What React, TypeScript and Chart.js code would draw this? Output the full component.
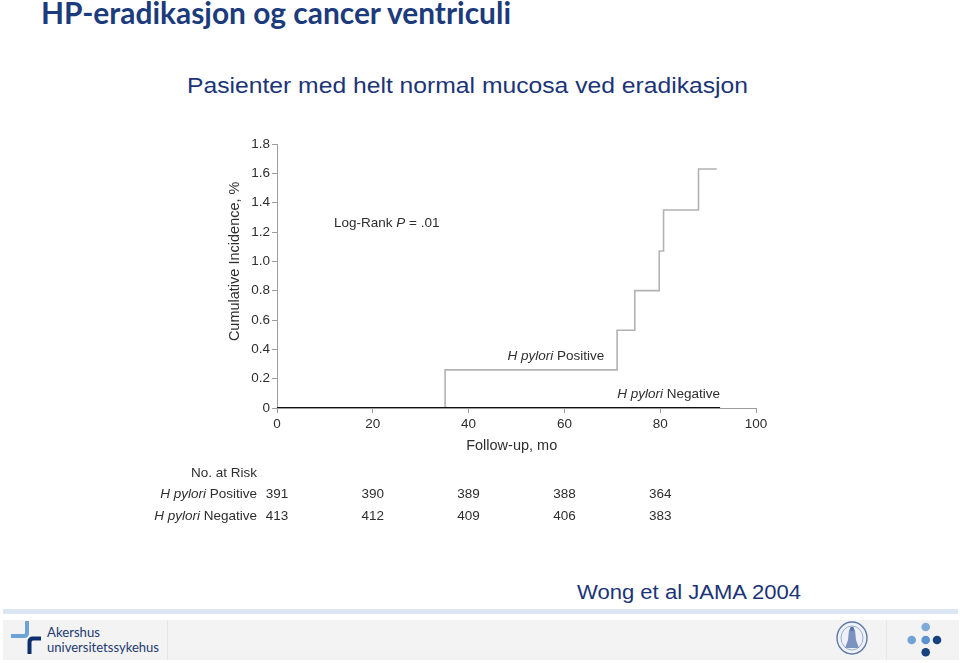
import React, { useEffect, useRef } from "react";
import { Chart, registerables } from "chart.js";

Chart.register(...registerables);

// ---- Data ----
const posMonths = [0, 35.1, 71.0, 74.7, 79.8, 80.7, 88.0, 91.8];
const posIncidence = [0, 0.26, 0.53, 0.8, 1.07, 1.35, 1.63, 1.63];
const negMonths = [0, 92.5];
const negIncidence = [0, 0];

const riskTimes = [0, 20, 40, 60, 80];
const riskPositive = [391, 390, 389, 388, 364];
const riskNegative = [413, 412, 409, 406, 383];

const xTickStep = 20;
const yTickStep = 0.2;

const FONT = "'Liberation Sans', Arial, Helvetica, sans-serif";
const TEXT = "#2e2e2e";

type Seg = { t: string; i?: boolean };

function drawSegs(ctx: CanvasRenderingContext2D, segs: Seg[], x: number, y: number, size: number, align: "left" | "right" | "center") {
  const fontOf = (s: Seg) => `${s.i ? "italic " : ""}${size}px ${FONT}`;
  let total = 0;
  for (const s of segs) {
    ctx.font = fontOf(s);
    total += ctx.measureText(s.t).width;
  }
  let cx = align === "left" ? x : align === "right" ? x - total : x - total / 2;
  ctx.textAlign = "left";
  ctx.textBaseline = "middle";
  for (const s of segs) {
    ctx.font = fontOf(s);
    ctx.fillText(s.t, cx, y);
    cx += ctx.measureText(s.t).width;
  }
}

const textPlugin = {
  id: "kmText",
  afterDraw(chart: any) {
    const { ctx, chartArea, scales } = chart;
    const xs = scales.x;
    const ys = scales.y;
    ctx.save();
    ctx.fillStyle = TEXT;

    // axis titles
    ctx.save();
    ctx.translate(chartArea.left - 42, ys.getPixelForValue(1.0));
    ctx.rotate(-Math.PI / 2);
    drawSegs(ctx, [{ t: "Cumulative Incidence, %" }], 0, 0, 14.5, "center");
    ctx.restore();
    drawSegs(ctx, [{ t: "Follow-up, mo" }], xs.getPixelForValue(49), chartArea.bottom + 38, 14.5, "center");

    // in-plot annotations
    drawSegs(ctx, [{ t: "Log-Rank " }, { t: "P", i: true }, { t: " = .01" }], xs.getPixelForValue(11.9), ys.getPixelForValue(1.26), 13.5, "left");
    drawSegs(ctx, [{ t: "H pylori", i: true }, { t: " Positive" }], xs.getPixelForValue(68.3), ys.getPixelForValue(0.355), 13.5, "right");
    drawSegs(ctx, [{ t: "H pylori", i: true }, { t: " Negative" }], xs.getPixelForValue(92.5), ys.getPixelForValue(0.095), 13.5, "right");

    // number at risk table
    const labelX = chartArea.left - 20;
    const r0 = chartArea.bottom + 65;
    const r1 = chartArea.bottom + 86;
    const r2 = chartArea.bottom + 108;
    drawSegs(ctx, [{ t: "No. at Risk" }], labelX, r0, 13.5, "right");
    drawSegs(ctx, [{ t: "H pylori", i: true }, { t: " Positive" }], labelX, r1, 13.5, "right");
    drawSegs(ctx, [{ t: "H pylori", i: true }, { t: " Negative" }], labelX, r2, 13.5, "right");
    riskTimes.forEach((t, i) => {
      const px = xs.getPixelForValue(t);
      drawSegs(ctx, [{ t: String(riskPositive[i]) }], px, r1, 13.5, "center");
      drawSegs(ctx, [{ t: String(riskNegative[i]) }], px, r2, 13.5, "center");
    });
    ctx.restore();
  },
};

function KMChart() {
  const ref = useRef<HTMLCanvasElement | null>(null);
  useEffect(() => {
    if (!ref.current) return;
    const axisGray = "#9c9c9c";
    const chart = new Chart(ref.current, {
      type: "line",
      data: {
        datasets: [
          {
            label: "H pylori Negative",
            data: negMonths.map((x, i) => ({ x, y: negIncidence[i] })),
            borderColor: "#111111",
            borderWidth: 2.2,
            stepped: "before",
            pointRadius: 0,
            fill: false,
          },
          {
            label: "H pylori Positive",
            data: posMonths.map((x, i) => ({ x, y: posIncidence[i] })),
            borderColor: "#b2b2b2",
            borderWidth: 1.6,
            stepped: "before",
            pointRadius: 0,
            fill: false,
          },
        ],
      },
      options: {
        responsive: false,
        animation: false,
        events: [],
        layout: { padding: { left: 226, top: 144, right: 204, bottom: 208 } },
        plugins: { legend: { display: false }, tooltip: { enabled: false } },
        scales: {
          x: {
            type: "linear",
            min: 0,
            max: 100,
            ticks: { stepSize: xTickStep, color: TEXT, font: { family: FONT, size: 13.5 }, padding: 3, maxRotation: 0 },
            grid: { drawOnChartArea: false, drawTicks: true, tickLength: 5, color: axisGray, lineWidth: 1 },
            border: { color: axisGray, width: 1 },
            afterFit: (s: any) => {
              s.height = 47;
            },
          },
          y: {
            type: "linear",
            min: 0,
            max: 1.8,
            ticks: {
              stepSize: yTickStep,
              color: TEXT,
              font: { family: FONT, size: 13.5 },
              padding: 2,
              callback: (v: any) => (Math.abs(Number(v)) < 1e-9 ? "0" : Number(v).toFixed(1)),
            },
            grid: { drawOnChartArea: false, drawTicks: true, tickLength: 5, color: axisGray, lineWidth: 1 },
            border: { color: axisGray, width: 1 },
            afterFit: (s: any) => {
              s.width = 51;
            },
          },
        },
      } as any,
      plugins: [textPlugin],
    });
    return () => chart.destroy();
  }, []);
  return <canvas ref={ref} width={960} height={663} style={{ position: "absolute", left: 0, top: 0, width: 960, height: 663 }} />;
}

function Decor() {
  const navy = "#1b3477";
  return (
    <svg width={960} height={663} style={{ position: "absolute", left: 0, top: 0 }}>
      <text x={41} y={23.5} fontFamily="Lato, 'Open Sans', sans-serif" fontWeight={700} fontSize={31} fill="#1c3b7c" textLength={470} lengthAdjust="spacingAndGlyphs">
        HP-eradikasjon og cancer ventriculi
      </text>
      <text x={187} y={93} fontFamily={FONT} fontSize={22.5} fill={navy} textLength={561} lengthAdjust="spacingAndGlyphs">
        Pasienter med helt normal mucosa ved eradikasjon
      </text>
      <text x={577} y={599} fontFamily={FONT} fontSize={19.5} fill={navy} textLength={224} lengthAdjust="spacingAndGlyphs">
        Wong et al JAMA 2004
      </text>
      {/* footer */}
      <rect x={3} y={609} width={955} height={5} fill="#dce6f2" />
      <rect x={3} y={620} width={956} height={40} fill="#f3f3f3" />
      <rect x={167} y={620} width={1} height={40} fill="#e6e6e6" />
      <rect x={886} y={620} width={1} height={40} fill="#e6e6e6" />
      {/* hospital logo */}
      <path d="M27 621 L27 633 Q27 636 24 636 L11 636" stroke="#6ea3d8" strokeWidth={4} fill="none" />
      <path d="M41 638.5 L33 638.5 Q29.5 638.5 29.5 642 L29.5 654" stroke="#0e2f6e" strokeWidth={4} fill="none" />
      <text x={47} y={637} fontFamily="Lato, 'Open Sans', sans-serif" fontSize={13} fill="#1d3a72" textLength={53} lengthAdjust="spacingAndGlyphs">
        Akershus
      </text>
      <text x={47} y={652} fontFamily="Lato, 'Open Sans', sans-serif" fontSize={13} fill="#1d3a72" textLength={112} lengthAdjust="spacingAndGlyphs">
        universitetssykehus
      </text>
      {/* seal */}
      <ellipse cx={852} cy={638} rx={15} ry={16} fill="#eef1f7" stroke="#6079aa" strokeWidth={1.4} />
      <ellipse cx={852} cy={638} rx={11} ry={12} fill="none" stroke="#9aaccd" strokeWidth={1} />
      <path d="M849 630 Q852 626 855 630 L856 640 L859 648 L845 648 L848 640 Z" fill="#7d93bf" />
      <circle cx={852} cy={629} r={2.2} fill="#5d76a8" />
      {/* dots */}
      <circle cx={925.7} cy={627} r={4.3} fill="#7eaad9" />
      <circle cx={911.7} cy={640} r={4.3} fill="#72a3d7" />
      <circle cx={925.7} cy={640} r={4.3} fill="#5a93cf" />
      <circle cx={937} cy={640} r={4.3} fill="#18427f" />
      <circle cx={925.7} cy={652.3} r={4.3} fill="#18427f" />
    </svg>
  );
}

export default function App() {
  return (
    <div style={{ position: "fixed", left: 0, top: 0, width: 960, height: 663, background: "#ffffff", overflow: "hidden" }}>
      <Decor />
      <KMChart />
    </div>
  );
}
